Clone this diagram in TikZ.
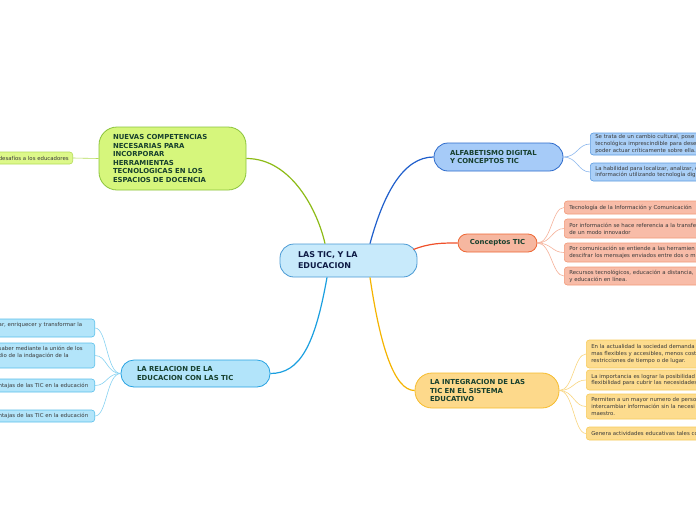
\documentclass[tikz,border=0pt]{standalone}
\usepackage{fontspec}
\setmainfont{DejaVu Sans}
\usetikzlibrary{calc}
\definecolor{maintext}{HTML}{17402E}
\definecolor{ctrtext}{HTML}{0E1B45}
\definecolor{leaftext}{HTML}{3A3A3A}
\definecolor{ctrfill}{HTML}{C8EAFB}
\definecolor{ctrdraw}{HTML}{4A9AD4}
\definecolor{limefill}{HTML}{D6F67C}
\definecolor{limedraw}{HTML}{8CC43C}
\definecolor{limeline}{HTML}{8DBB16}
\definecolor{limeleaf}{HTML}{DDF88A}
\definecolor{limeleafb}{HTML}{B5DC58}
\definecolor{alffill}{HTML}{A6CBF8}
\definecolor{alfdraw}{HTML}{2D6BCB}
\definecolor{alfline}{HTML}{1F5FCC}
\definecolor{alfleaf}{HTML}{AACFF7}
\definecolor{alfleafb}{HTML}{5C9BE0}
\definecolor{alfleafline}{HTML}{8CB8EE}
\definecolor{confill}{HTML}{F6B7A0}
\definecolor{condraw}{HTML}{EE6633}
\definecolor{conline}{HTML}{F0502A}
\definecolor{conleaf}{HTML}{F8BCA8}
\definecolor{conleafb}{HTML}{F29A7A}
\definecolor{conleafline}{HTML}{F6B29A}
\definecolor{intfill}{HTML}{FDD98B}
\definecolor{intdraw}{HTML}{F6BC2D}
\definecolor{intline}{HTML}{F5B400}
\definecolor{intleaf}{HTML}{FDDC8E}
\definecolor{intleafb}{HTML}{F7CB5C}
\definecolor{intleafline}{HTML}{F9D680}
\definecolor{relfill}{HTML}{B2E4FA}
\definecolor{reldraw}{HTML}{27A2E2}
\definecolor{relline}{HTML}{1A9FE0}
\definecolor{relleaf}{HTML}{B3E5FA}
\definecolor{relleafb}{HTML}{5BC0EB}
\definecolor{relleafline}{HTML}{86D2F2}
\begin{document}
\begin{tikzpicture}[x=1pt,y=-1pt,
  mainbox/.style={draw, line width=0.8pt, align=left, inner ysep=0pt,
    font=\fontsize{6.9}{8.6}\selectfont\bfseries, text=maintext},
  leafbox/.style={draw, line width=0.6pt, rounded corners=3pt, align=left,
    inner xsep=5pt, inner ysep=0pt, font=\fontsize{5.4}{6.8}\selectfont, text=leaftext},
  rleaf/.style={leafbox, anchor=west, text width=160pt},
  lleaf/.style={leafbox, anchor=east, inner xsep=4pt, text width=92pt},
  mainline/.style={line width=1.2pt},
  leafline/.style={line width=0.6pt}
]
\useasboundingbox (0,0) rectangle (696,520);
\fill[white] (0,0) rectangle (696,520);
\clip (0,0) rectangle (696,520);

% central node
\node[mainbox, fill=ctrfill, draw=ctrdraw, rounded corners=14pt, text=ctrtext,
  font=\fontsize{8}{11}\selectfont\bfseries,
  minimum width=137pt, minimum height=33pt, inner xsep=18pt, text width=101pt]
  (ctr) at (348.5,260.5) {LAS TIC, Y LA\\EDUCACION};

% main branches
\node[mainbox, fill=limefill, draw=limedraw, rounded corners=18pt,
  minimum width=147pt, minimum height=63pt, inner xsep=14pt, text width=119pt]
  (nue) at (172.5,158.5) {NUEVAS COMPETENCIAS\\NECESARIAS PARA\\INCORPORAR\\HERRAMIENTAS\\TECNOLOGICAS EN LOS\\ESPACIOS DE DOCENCIA};

\node[mainbox, fill=alffill, draw=alfdraw, rounded corners=14pt,
  minimum width=129pt, minimum height=28pt, inner xsep=16pt, text width=97pt]
  (alf) at (498.5,157) {ALFABETISMO DIGITAL\\Y CONCEPTOS TIC};

\node[mainbox, fill=confill, draw=condraw, rounded corners=9pt, align=center,
  minimum width=79pt, minimum height=18pt, inner xsep=4pt]
  (con) at (497.5,243) {Conceptos TIC};

\node[mainbox, fill=intfill, draw=intdraw, rounded corners=17pt,
  minimum width=144pt, minimum height=35pt, inner xsep=15pt, text width=114pt]
  (int) at (487,390.5) {LA INTEGRACION DE LAS\\TIC EN EL SISTEMA\\EDUCATIVO};

\node[mainbox, fill=relfill, draw=reldraw, rounded corners=13pt,
  minimum width=149pt, minimum height=27pt, inner xsep=16pt, text width=117pt]
  (rel) at (195.5,373.5) {LA RELACION DE LA\\EDUCACION CON LAS TIC};

% main connectors
\draw[mainline, limeline] ($(ctr.north)+(-23.5,0)$) .. controls (318,212) and (292,158.5) .. (nue.east);
\draw[mainline, alfline] ($(ctr.north)+(21.5,0)$) .. controls (384,192) and (404,157) .. (alf.west);
\draw[mainline, conline] ($(ctr.east)+(-4,-11)$) .. controls (430,243) and (442,243) .. (con.west);
\draw[mainline, intline] ($(ctr.south)+(21.5,0)$) .. controls (380,345) and (394,390.5) .. (int.west);
\draw[mainline, relline] ($(ctr.south)+(-21.5,0)$) .. controls (315,345) and (300,373.5) .. (rel.east);

% lime leaf
\node[leafbox, anchor=east, inner xsep=4pt, fill=limeleaf, draw=limeleafb, minimum height=12pt]
  (n1) at (73,158) {desafíos a los educadores};
\draw[leafline, limeleafb] (nue.west) -- (n1.east);

% alfabetismo leaves
\node[rleaf, fill=alfleaf, draw=alfleafb, minimum height=22pt] (a1) at (590,144)
  {Se trata de un cambio cultural, pose\\tecnológica imprescindible para dese\\poder actuar críticamente sobre ella.};
\node[rleaf, fill=alfleaf, draw=alfleafb, minimum height=18pt] (a2) at (590,172)
  {La habilidad para localizar, analizar, e\\información utilizando tecnología dig};
\foreach \n in {a1,a2}
  \draw[leafline, alfleafline] (alf.east) .. controls +(14,0) and +(-12,0) .. (\n.west);

% conceptos leaves
\node[rleaf, fill=conleaf, draw=conleafb, minimum height=13pt] (c1) at (564,207.5)
  {Tecnología de la Información y Comunicación};
\node[rleaf, fill=conleaf, draw=conleafb, minimum height=19pt] (c2) at (564,228.5)
  {Por información se hace referencia a la transfe\\de un modo innovador};
\node[rleaf, fill=conleaf, draw=conleafb, minimum height=19pt] (c3) at (564,252.5)
  {Por comunicación se entiende a las herramien\\descifrar los mensajes enviados entre dos o m};
\node[rleaf, fill=conleaf, draw=conleafb, minimum height=18pt] (c4) at (564,276)
  {Recursos tecnológicos, educación a distancia,\\y educación en línea.};
\foreach \n in {c1,c2,c3,c4}
  \draw[leafline, conleafline] (con.east) .. controls +(14,0) and +(-12,0) .. (\n.west);

% integracion leaves
\node[rleaf, fill=intleaf, draw=intleafb, minimum height=28pt] (i1) at (586,354)
  {En la actualidad la sociedad demanda\\mas flexibles y accesibles, menos cost\\restricciones de tiempo o de lugar.};
\node[rleaf, fill=intleaf, draw=intleafb, minimum height=20pt] (i2) at (586,380)
  {La importancia es lograr la posibilidad\\flexibilidad para cubrir las necesidades};
\node[rleaf, fill=intleaf, draw=intleafb, minimum height=25pt] (i3) at (586,406.5)
  {Permiten a un mayor numero de perso\\intercambiar información sin la necesi\\maestro.};
\node[rleaf, fill=intleaf, draw=intleafb, minimum height=13pt] (i4) at (586,433.5)
  {Genera actividades educativas tales co};
\foreach \n in {i1,i2,i3,i4}
  \draw[leafline, intleafline] (int.east) .. controls +(14,0) and +(-12,0) .. (\n.west);

% relacion leaves
\node[lleaf, fill=relleaf, draw=relleafb, minimum height=18pt] (r1) at (95,328)
  {ar, enriquecer y transformar la\\\mbox{}};
\node[lleaf, fill=relleaf, draw=relleafb, minimum height=25pt] (r2) at (95,355.5)
  {saber mediante la unión de los\\dio de la indagación de la\\\mbox{}};
\node[lleaf, fill=relleaf, draw=relleafb, minimum height=13pt] (r3) at (95,385.5)
  {ntajas de las TIC en la educación};
\node[lleaf, fill=relleaf, draw=relleafb, minimum height=12pt] (r4) at (95,416)
  {ntajas de las TIC en la educación};
\foreach \n in {r1,r2,r3,r4}
  \draw[leafline, relleafline] (rel.west) .. controls +(-14,0) and +(12,0) .. (\n.east);
\end{tikzpicture}
\end{document}
